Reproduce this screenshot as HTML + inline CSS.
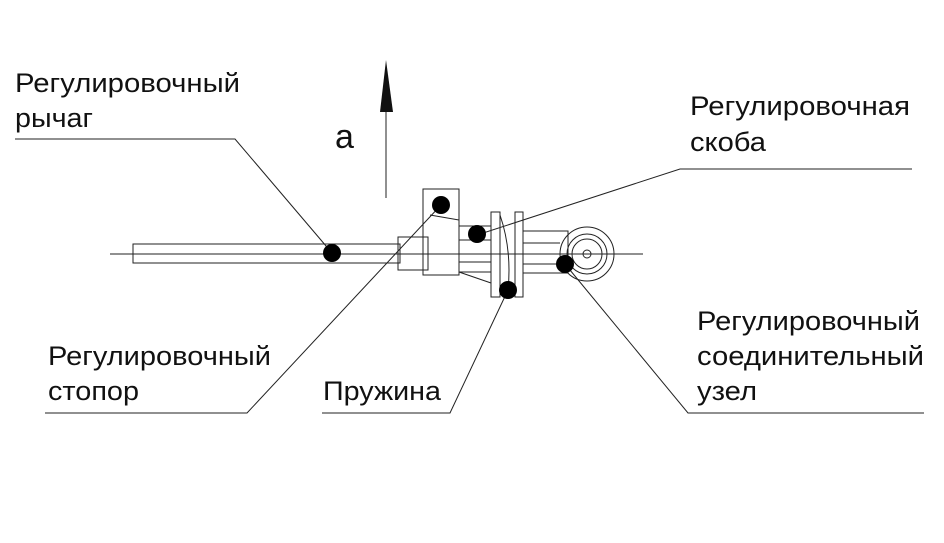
<!DOCTYPE html>
<html><head><meta charset="utf-8"><style>html,body{margin:0;padding:0;background:#fff}</style></head>
<body>
<svg width="944" height="538" viewBox="0 0 944 538" xmlns="http://www.w3.org/2000/svg" font-family="'Liberation Sans', Arial, sans-serif" font-size="27" fill="#111">
<g stroke="#222" stroke-width="1" fill="none">
<polyline points="15,139 235,139 332,253"/>
<polyline points="912,169 680,169 477,235"/>
<polyline points="45,413 247,413 441,205"/>
<polyline points="322,413 450,413 508,290"/>
<polyline points="924,413 688,413 565,264"/>
<line x1="386" y1="110" x2="386" y2="198"/>
<line x1="110" y1="254" x2="643" y2="254"/>
<rect x="133" y="244" width="267" height="19"/>
<rect x="423" y="189" width="36" height="86"/>
<line x1="430" y1="215" x2="459" y2="220"/>
<rect x="398" y="237" width="30" height="33"/>
<rect x="459" y="226" width="32" height="46"/>
<line x1="459" y1="240" x2="491" y2="240"/>
<line x1="459" y1="262" x2="491" y2="262"/>
<line x1="459" y1="272" x2="491" y2="283"/>
<rect x="491" y="212" width="9" height="85"/>
<rect x="515" y="212" width="8" height="85"/>
<path d="M500,215 Q512,250 508,290"/>
<rect x="523" y="231" width="45" height="42"/>
<line x1="523" y1="243" x2="560" y2="243"/>
<line x1="523" y1="264" x2="560" y2="264"/>
<circle cx="587" cy="254" r="27"/>
<circle cx="587" cy="254" r="20"/>
<circle cx="587" cy="254" r="15"/>
<circle cx="587" cy="254" r="4"/>
</g>
<polygon points="386,60 380,112 393,112" fill="#111"/>
<g fill="#000">
<circle cx="332" cy="253" r="9"/>
<circle cx="441" cy="205" r="9"/>
<circle cx="477" cy="234" r="9"/>
<circle cx="508" cy="290" r="9"/>
<circle cx="565" cy="264" r="9"/>
</g>
<text x="335" y="148" font-size="34">а</text>
<text x="15" y="92" textLength="225" lengthAdjust="spacingAndGlyphs">Регулировочный</text>
<text x="15" y="127" textLength="78" lengthAdjust="spacingAndGlyphs">рычаг</text>
<text x="690" y="115" textLength="220" lengthAdjust="spacingAndGlyphs">Регулировочная</text>
<text x="690" y="151" textLength="76" lengthAdjust="spacingAndGlyphs">скоба</text>
<text x="48" y="365" textLength="223" lengthAdjust="spacingAndGlyphs">Регулировочный</text>
<text x="48" y="400" textLength="91" lengthAdjust="spacingAndGlyphs">стопор</text>
<text x="323" y="400" textLength="118" lengthAdjust="spacingAndGlyphs">Пружина</text>
<text x="697" y="330" textLength="223" lengthAdjust="spacingAndGlyphs">Регулировочный</text>
<text x="697" y="365" textLength="227" lengthAdjust="spacingAndGlyphs">соединительный</text>
<text x="697" y="400" textLength="60" lengthAdjust="spacingAndGlyphs">узел</text>
</svg>
</body></html>
